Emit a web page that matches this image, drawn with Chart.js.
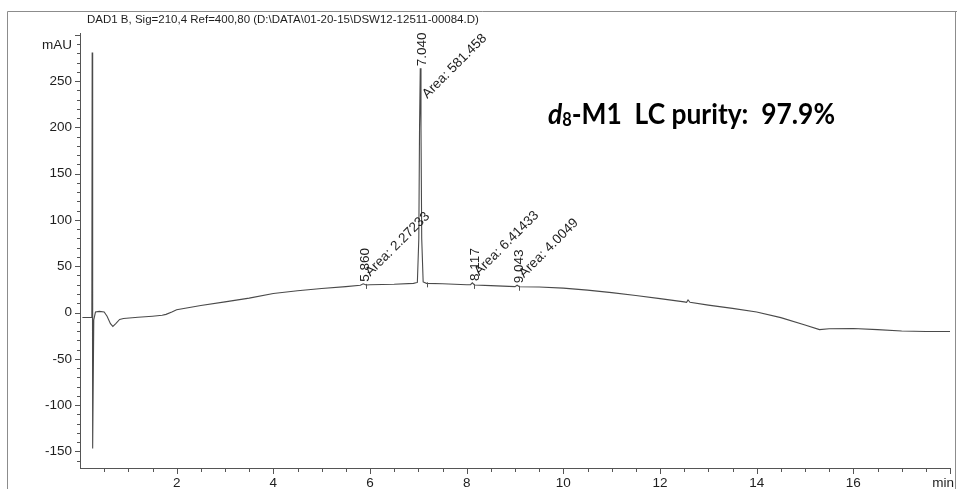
<!DOCTYPE html>
<html><head><meta charset="utf-8">
<style>html,body{margin:0;padding:0;background:#fff;overflow:hidden}canvas{display:block}</style>
<script src="https://cdn.jsdelivr.net/npm/chart.js@4.4.1/dist/chart.umd.min.js"></script>
</head><body>
<canvas id="c" width="957" height="489"></canvas>
<script>
// ---- data ----
const times  = [0.05, 0.22, 0.245, 0.252, 0.262, 0.285, 0.32, 0.40, 0.50, 0.56, 0.63, 0.68, 0.74, 0.82, 0.90,
                1.20, 1.50, 1.70, 1.78, 1.90, 2.0, 2.5, 3.0, 3.5, 4.0, 4.5, 5.0, 5.5, 5.80, 5.86, 5.92, 6.0, 6.5,
                6.90, 6.98, 7.01, 7.025, 7.04, 7.055, 7.07, 7.10, 7.17, 7.5, 8.0, 8.08, 8.117, 8.16, 8.5,
                9.0, 9.043, 9.09, 9.5, 10.0, 10.5, 11.0, 11.5, 12.0, 12.5, 12.55, 12.58, 12.62, 13.0, 13.5,
                14.0, 14.5, 15.0, 15.3, 15.5, 16.0, 16.5, 17.0, 17.5, 18.0];
const signal = [-5.4, -5.4, -5.2, 281, -147, -8, 0.5, 1.2, 0.5, -4, -12, -15, -12, -7.5, -6.5,
                -5.2, -4, -3, -2, 0.5, 3, 7.5, 11.5, 15.5, 20.5, 23.5, 26, 28, 29.5, 31, 29.8, 30, 30.5,
                31.5, 32.5, 80, 200, 264, 200, 80, 33, 31.5, 31, 30, 30, 32, 29.8, 29,
                28, 29.5, 27.8, 27.5, 26.3, 24.2, 21.5, 18.3, 15, 11.5, 11, 13.5, 11, 8, 4.5,
                0.5, -5.5, -13.5, -18.5, -17.5, -17.3, -18.5, -20, -20.5, -20.5];
const peakTimes = [5.860, 7.040, 8.117, 9.043];
const peakAreas = ['2.27233', '581.458', '6.41433', '4.0049'];
const peakEnds  = [5.92, 7.17, 8.16, 9.09];
const xTickLabels = [2, 4, 6, 8, 10, 12, 14, 16];
const yTickLabels = [-150, -100, -50, 0, 50, 100, 150, 200, 250];
const titleText = 'DAD1 B, Sig=210,4 Ref=400,80 (D:\\DATA\\01-20-15\\DSW12-12511-00084.D)';

const FONT = "'Liberation Sans', Arial, sans-serif";
const TXT = '#1e1e1e';

function valueAt(t){
  const i = times.indexOf(t);
  return signal[i];
}

const annot = {
  id: 'annot',
  afterDraw(chart){
    const {ctx, chartArea: ca, scales: {x, y}} = chart;
    ctx.save();
    // page frame (scan border)
    ctx.strokeStyle = '#8c8c8c'; ctx.lineWidth = 1;
    ctx.beginPath(); ctx.moveTo(7.5, 489); ctx.lineTo(7.5, 11.5); ctx.lineTo(957, 11.5); ctx.stroke();
    ctx.beginPath(); ctx.moveTo(955.5, 11.5); ctx.lineTo(955.5, 489); ctx.stroke();

    // axis tick marks
    ctx.strokeStyle = '#555';
    ctx.beginPath();
    for (let i = 1; i <= 36; i++) {
      const v = i * 0.5;
      const px = Math.round(x.getPixelForValue(v)) + 0.5;
      const len = (i % 4 === 0) ? 6 : 4;
      ctx.moveTo(px, ca.bottom); ctx.lineTo(px, ca.bottom + len);
    }
    for (let v = -160; v <= 300; v += 10) {
      const py = Math.round(y.getPixelForValue(v)) + 0.5;
      const len = (v % 50 === 0) ? 5 : 3;
      ctx.moveTo(ca.left, py); ctx.lineTo(ca.left - len, py);
    }
    ctx.stroke();

    // axis unit labels
    ctx.fillStyle = TXT;
    ctx.font = '13.5px ' + FONT;
    ctx.textAlign = 'right'; ctx.textBaseline = 'middle';
    ctx.fillText('mAU', ca.left - 8, y.getPixelForValue(300) + 10);
    ctx.fillText('min', 954, 483);

    // title
    ctx.font = '11.5px ' + FONT;
    ctx.textAlign = 'left';
    ctx.fillText(titleText, 87, 20);

    // peak annotations
    ctx.font = '13.5px ' + FONT;
    ctx.strokeStyle = '#555';
    peakTimes.forEach((t, k) => {
      const px = x.getPixelForValue(t);
      const py = y.getPixelForValue(valueAt(t));
      // retention time, vertical
      ctx.save();
      ctx.translate(px + 2.5, py - 2);
      ctx.rotate(-Math.PI / 2);
      ctx.textAlign = 'left'; ctx.textBaseline = 'middle';
      ctx.fillText(t.toFixed(3), 0, 0);
      ctx.restore();
      // area, 45 degrees
      const label = 'Area: ' + peakAreas[k];
      const w = ctx.measureText(label).width;
      const sy = Math.max(py - 7, ca.top + w * Math.SQRT1_2 + 6);
      ctx.save();
      ctx.translate(px + 7, sy);
      ctx.rotate(-Math.PI / 4);
      ctx.textAlign = 'left'; ctx.textBaseline = 'alphabetic';
      ctx.fillText(label, 0, 0);
      ctx.restore();
      // integration end marker
      const ex = Math.round(x.getPixelForValue(peakEnds[k])) + 0.5;
      const ey = y.getPixelForValue(valueAt(peakEnds[k]));
      ctx.beginPath(); ctx.moveTo(ex, ey - 1); ctx.lineTo(ex, ey + 4); ctx.stroke();
    });

    // purity statement
    const x0 = 548, base = 123.5, targetW = 287;
    const it = 'italic bold 29px Lato, sans-serif', big = 'bold 29px Lato, sans-serif', sub = 'bold 18px Lato, sans-serif';
    const rest = '-M1  LC purity:  97.9%';
    ctx.font = it; const wd = ctx.measureText('d').width;
    ctx.font = sub; const w8 = ctx.measureText('8').width;
    ctx.font = big; const wr = ctx.measureText(rest).width;
    const sx = targetW / (wd + w8 + wr);
    ctx.translate(x0, base); ctx.scale(sx, 1);
    ctx.fillStyle = '#000'; ctx.textAlign = 'left'; ctx.textBaseline = 'alphabetic';
    ctx.font = it; ctx.fillText('d', 0, 0);
    ctx.font = sub; ctx.fillText('8', wd, 2);
    ctx.font = big; ctx.fillText(rest, wd + w8, 0);
    ctx.restore();
  }
};

new Chart(document.getElementById('c'), {
  type: 'line',
  data: {
    datasets: [{
      data: times.map((t, i) => ({x: t, y: signal[i]})),
      borderColor: '#4a4a4a', borderWidth: 1.1, pointRadius: 0, fill: false, tension: 0
    }]
  },
  options: {
    responsive: false, devicePixelRatio: 1, animation: false,
    layout: {padding: {top: 33, right: 1, left: 0, bottom: 0}},
    plugins: {legend: {display: false}, tooltip: {enabled: false}, title: {display: false}},
    scales: {
      x: {
        type: 'linear', min: 0, max: 18,
        grid: {display: false, drawTicks: false},
        border: {display: true, color: '#555', width: 1},
        ticks: {stepSize: 2, autoSkip: false, includeBounds: false, maxRotation: 0, padding: 7,
                color: TXT, font: {family: FONT, size: 13.5},
                callback: v => xTickLabels.includes(v) ? String(v) : ''},
        afterFit: s => { s.height = 21; }
      },
      y: {
        type: 'linear', min: -168, max: 302,
        grid: {display: false, drawTicks: false},
        border: {display: true, color: '#555', width: 1},
        ticks: {stepSize: 50, autoSkip: false, includeBounds: false, padding: 8,
                color: TXT, font: {family: FONT, size: 13.5},
                callback: v => yTickLabels.includes(v) ? String(v) : ''},
        afterFit: s => { s.width = 80; }
      }
    }
  },
  plugins: [annot]
});
</script>
</body></html>
